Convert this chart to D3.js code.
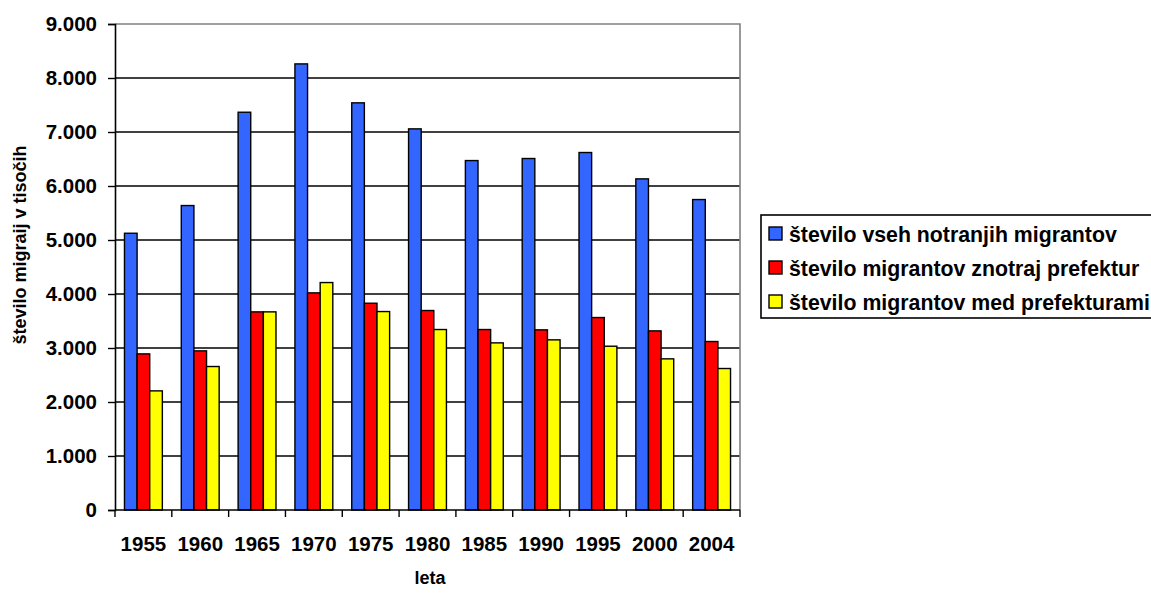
<!DOCTYPE html>
<html>
<head>
<meta charset="utf-8">
<script src="https://cdn.jsdelivr.net/npm/d3@7"></script>
<style>
  html, body { margin: 0; padding: 0; background: #fff; }
  svg { display: block; font-family: "Liberation Sans", Arial, sans-serif; font-weight: bold; }
</style>
</head>
<body>
<svg id="chart" width="1151" height="594"></svg>
<script>
// Internal migration in Japan, thousands of moves
const years = ["1955", "1960", "1965", "1970", "1975", "1980", "1985", "1990", "1995", "2000", "2004"];
const totalMigrants = [5125, 5638, 7366, 8261, 7540, 7058, 6471, 6509, 6620, 6132, 5749];
const withinPrefectures = [2891, 2947, 3669, 4021, 3829, 3694, 3342, 3336, 3564, 3317, 3120];
const betweenPrefectures = [2206, 2657, 3669, 4212, 3675, 3342, 3095, 3151, 3033, 2799, 2620];
const seriesNames = [
  "število vseh notranjih migrantov",
  "število migrantov znotraj prefektur",
  "število migrantov med prefekturami"
];
const seriesColors = ["#3366FF", "#FF0000", "#FFFF00"];
const yTicks = [0, 1000, 2000, 3000, 4000, 5000, 6000, 7000, 8000, 9000];

const seriesValues = [totalMigrants, withinPrefectures, betweenPrefectures];
const rows = years.map((yr, i) => ({ year: yr, values: seriesValues.map(s => s[i]) }));

const svg = d3.select("#chart");
const plot = { left: 115, right: 740, top: 24, bottom: 510 };

const x = d3.scaleBand().domain(years).range([plot.left, plot.right])
  .paddingInner(1 / 3).paddingOuter(1 / 6);
const xs = d3.scaleBand().domain(d3.range(3)).range([0, x.bandwidth()]);
const y = d3.scaleLinear().domain([0, 9000]).range([plot.bottom, plot.top]);

const fmt = v => v === 0 ? "0" : d3.format(",")(v).replace(/,/g, ".");

// horizontal gridlines
svg.append("g").selectAll("line").data(yTicks.filter(t => t > 0 && t < 9000)).join("line")
  .attr("x1", plot.left).attr("x2", plot.right)
  .attr("y1", d => y(d)).attr("y2", d => y(d))
  .attr("stroke", "#000").attr("stroke-width", 1.4);

// plot area frame (top and right)
svg.append("path")
  .attr("d", `M${plot.left},${y(9000)}H${plot.right}V${plot.bottom}`)
  .attr("fill", "none").attr("stroke", "#808080").attr("stroke-width", 1.6);

// bars
const groups = svg.append("g").selectAll("g").data(rows).join("g")
  .attr("transform", d => `translate(${x(d.year)},0)`);
groups.selectAll("rect").data(d => d.values.map((v, k) => ({ v, k }))).join("rect")
  .attr("x", d => xs(d.k)).attr("width", xs.bandwidth())
  .attr("y", d => y(d.v)).attr("height", d => y(0) - y(d.v))
  .attr("fill", d => seriesColors[d.k])
  .attr("stroke", "#000").attr("stroke-width", 1.4);

// y axis
const yAxis = svg.append("g").attr("transform", `translate(${plot.left},0)`)
  .call(d3.axisLeft(y).tickValues(yTicks).tickFormat(fmt).tickSize(7).tickPadding(11));
yAxis.select(".domain").attr("stroke", "#000").attr("stroke-width", 1.6);
yAxis.selectAll(".tick line").attr("stroke", "#000").attr("stroke-width", 1.4);
yAxis.selectAll("text").attr("font-size", 20.5).attr("font-weight", "bold")
  .attr("font-family", "'Liberation Sans', Arial, sans-serif").attr("fill", "#000");

// x axis: baseline with ticks at category boundaries
const xAxis = svg.append("g");
xAxis.append("line").attr("x1", plot.left).attr("x2", plot.right)
  .attr("y1", y(0)).attr("y2", y(0)).attr("stroke", "#000").attr("stroke-width", 1.6);
const bounds = years.map(d => x(d) - x.step() * x.paddingOuter()).concat([plot.right]);
xAxis.selectAll("line.tk").data(bounds).join("line").attr("class", "tk")
  .attr("x1", d => d).attr("x2", d => d)
  .attr("y1", y(0)).attr("y2", y(0) + 7)
  .attr("stroke", "#000").attr("stroke-width", 1.4);
xAxis.selectAll("text").data(years).join("text")
  .attr("x", d => x(d) + x.bandwidth() / 2).attr("y", 551)
  .attr("text-anchor", "middle").attr("font-size", 20.5).text(d => d);

// axis titles
svg.append("text").attr("x", 430).attr("y", 584).attr("text-anchor", "middle")
  .attr("font-size", 18).text("leta");
svg.append("text").attr("transform", "translate(26,245) rotate(-90)")
  .attr("text-anchor", "middle").attr("font-size", 18).text("število migraij v tisočih");

// legend
const legend = svg.append("g");
legend.append("rect").attr("x", 761).attr("y", 215).attr("width", 420).attr("height", 103)
  .attr("fill", "#fff").attr("stroke", "#000").attr("stroke-width", 1.6);
const items = legend.selectAll("g").data(seriesNames).join("g")
  .attr("transform", (d, i) => `translate(769,${234 + i * 34})`);
items.append("rect").attr("x", 0).attr("y", -7).attr("width", 13).attr("height", 13)
  .attr("fill", (d, i) => seriesColors[i]).attr("stroke", "#000").attr("stroke-width", 1.4);
items.append("text").attr("x", 20).attr("y", 7.5).attr("font-size", 21.3).text(d => d);
</script>
</body>
</html>
